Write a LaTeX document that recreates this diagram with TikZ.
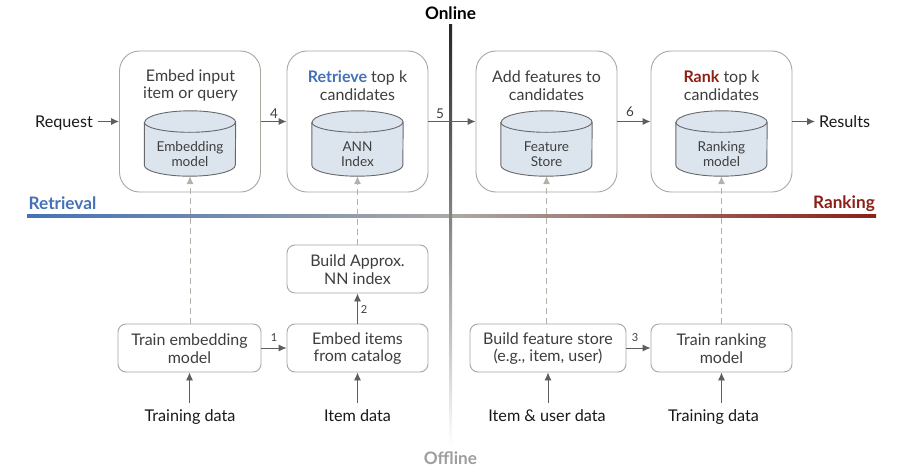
\documentclass[tikz,border=0pt]{standalone}
\usepackage{fontspec}
\setmainfont{Lato}
\usetikzlibrary{arrows.meta}
\definecolor{bluec}{HTML}{4472B8}
\definecolor{redc}{HTML}{8C2018}
\definecolor{edgec}{HTML}{ABA79F}
\definecolor{arrc}{HTML}{5F5E5A}
\definecolor{dashc}{HTML}{B5B1A9}
\definecolor{cylc}{HTML}{DCE5EE}
\definecolor{cyle}{HTML}{66686A}
\definecolor{txtc}{HTML}{3E3E3E}
\definecolor{midc}{HTML}{ABA9A5}
\tikzset{
  x=1pt,y=-1pt,
  bigbox/.style={draw=edgec,line width=0.9pt,rounded corners=20pt,minimum width=141pt,minimum height=141pt,inner sep=0pt},
  smallbox/.style={draw=edgec,line width=0.9pt,rounded corners=8pt,minimum height=48pt,align=center,inner sep=0pt,text=txtc,font=\fontsize{16}{17.5}\selectfont},
  title/.style={align=center,text=txtc,inner sep=0pt,font=\fontsize{16}{17.5}\selectfont},
  storebase/.style={minimum width=91pt,minimum height=65pt,inner sep=0pt},
  storeedge/.style={draw=cyle,line width=0.9pt,fill=cylc,line join=round},
  storetext/.style={align=center,text=txtc,inner sep=0pt,font=\fontsize{13.6}{15}\selectfont},
  plain/.style={text=black!90,inner sep=0pt,font=\fontsize{16.2}{17.5}\selectfont},
  num/.style={text=txtc,inner sep=0pt,font=\fontsize{13.5}{15}\selectfont},
  numsmall/.style={text=txtc,inner sep=0pt,font=\fontsize{11}{12}\selectfont},
  flow/.style={draw=arrc,line width=0.9pt,-{Latex[length=8pt,width=7pt]}},
  dashflow/.style={draw=dashc,line width=0.9pt,dash pattern=on 6pt off 4pt,-{Latex[length=8pt,width=7pt]}},
  axislabel/.style={inner sep=0pt,font=\fontsize{17.2}{20}\selectfont\bfseries},
}
\newcommand{\storeshape}[1]{%
  \path[storeedge] ([yshift=-11.5pt]#1.north west) -- ([yshift=11pt]#1.south west)
    arc[start angle=180,end angle=360,x radius=45.5pt,y radius=11pt]
    -- ([yshift=-11.5pt]#1.north east)
    arc[start angle=0,end angle=180,x radius=45.5pt,y radius=11.5pt] -- cycle;
  \draw[draw=cyle,line width=0.9pt] ([yshift=-11.5pt]#1.north west)
    arc[start angle=180,end angle=360,x radius=45.5pt,y radius=10pt];
}
\begin{document}
\begin{tikzpicture}
\useasboundingbox (0,0) rectangle (911,472);
\fill[white] (0,0) rectangle (911,472);
% axes
\shade[left color=bluec,right color=redc,middle color=midc] (27,214.2) rectangle (876,217.8);
\shade[top color=black!85,bottom color=white,middle color=black!45] (449,24) rectangle (452,446);
% online boxes
\node[bigbox] (b1) at (190,121.5) {};
\node[bigbox] (b2) at (357.5,121.5) {};
\node[bigbox] (b3) at (546.5,121.5) {};
\node[bigbox] (b4) at (721.5,121.5) {};
\node[title] (t1) at (190.5,85.5) {Embed input\\item or query};
\node[title] (t2) at (357.5,85.5) {\textcolor{bluec}{\textbf{Retrieve}} top k\\candidates};
\node[title] (t3) at (546.5,85.5) {Add features to\\candidates};
\node[title] (t4) at (721.5,85.5) {\textcolor{redc}{\textbf{Rank}} top k\\candidates};
% stores
\node[storebase] (c1) at (190,143.5) {};
\node[storebase] (c2) at (357.5,143.5) {};
\node[storebase] (c3) at (546.5,143.5) {};
\node[storebase] (c4) at (721.5,143.5) {};
\storeshape{c1}\storeshape{c2}\storeshape{c3}\storeshape{c4}
\node[storetext] (s1) at (190,154.5) {Embedding\\model};
\node[storetext] (s2) at (357.5,154.5) {ANN\\Index};
\node[storetext] (s3) at (546.5,154.5) {Feature\\Store};
\node[storetext] (s4) at (721.5,154.5) {Ranking\\model};
% offline boxes
\node[smallbox,minimum width=143pt] (o1) at (189.5,348) {\rule{0pt}{13pt}Train embedding\\model};
\node[smallbox,minimum width=141pt] (o2) at (357.5,348) {\rule{0pt}{13pt}Embed items\\from catalog};
\node[smallbox,minimum width=141pt] (o5) at (357.5,269) {\rule{0pt}{13pt}Build Approx.\\NN index};
\node[smallbox,minimum width=156pt] (o3) at (548,348) {\rule{0pt}{13pt}Build feature store\\(e.g., item, user)};
\node[smallbox,minimum width=141pt] (o4) at (721.5,348) {\rule{0pt}{13pt}Train ranking\\model};
% plain labels
\node[plain,anchor=base east] (req) at (93,127) {Request};
\node[plain,anchor=base west] (res) at (819,127) {Results};
\node[plain,anchor=base] (d1) at (190,421.5) {Training data};
\node[plain,anchor=base] (d2) at (357.5,421.5) {Item data};
\node[plain,anchor=base] (d3) at (547,421.5) {Item \& user data};
\node[plain,anchor=base] (d4) at (713.5,421.5) {Training data};
\node[axislabel,text=black] (online) at (450.5,13) {Online};
\node[axislabel,text=black!38] (offline) at (450.5,458.5) {Offline};
\node[axislabel,text=bluec,anchor=west] (retr) at (28.5,203) {Retrieval};
\node[axislabel,text=redc,anchor=east] (rank) at (875,203.5) {Ranking};
% numbers
\node[num] (n4) at (274,113.5) {4};
\node[num] (n5) at (440,113.5) {5};
\node[num] (n6) at (630,112) {6};
\node[numsmall] (n1) at (274,338) {1};
\node[numsmall] (n2) at (364,310) {2};
\node[numsmall] (n3) at (635,338) {3};
% flows
\coordinate (reqend) at (98,121.5);
\coordinate (resstart) at (815,121.5);
\coordinate (up1) at (189.5,403);
\coordinate (up2) at (357.5,403);
\coordinate (up3) at (548,403);
\coordinate (up4) at (721.5,403);
\draw[flow] (reqend) -- (b1.west);
\draw[flow] (b1.east) -- (b2.west);
\draw[flow] (b2.east) -- (b3.west);
\draw[flow] (b3.east) -- (b4.west);
\draw[flow] (b4.east) -- (resstart);
\draw[flow] (o1.east) -- (o2.west);
\draw[flow] (o3.east) -- (o4.west);
\draw[flow] (o2.north) -- (o5.south);
\draw[flow] (up1) -- (o1.south);
\draw[flow] (up2) -- (o2.south);
\draw[flow] (up3) -- (o3.south);
\draw[flow] (up4) -- (o4.south);
\draw[dashflow] (c1.south |- o1.north) -- (c1.south);
\draw[dashflow] (o5.north) -- (c2.south);
\draw[dashflow] (c3.south |- o3.north) -- (c3.south);
\draw[dashflow] (o4.north) -- (c4.south);
\end{tikzpicture}
\end{document}
